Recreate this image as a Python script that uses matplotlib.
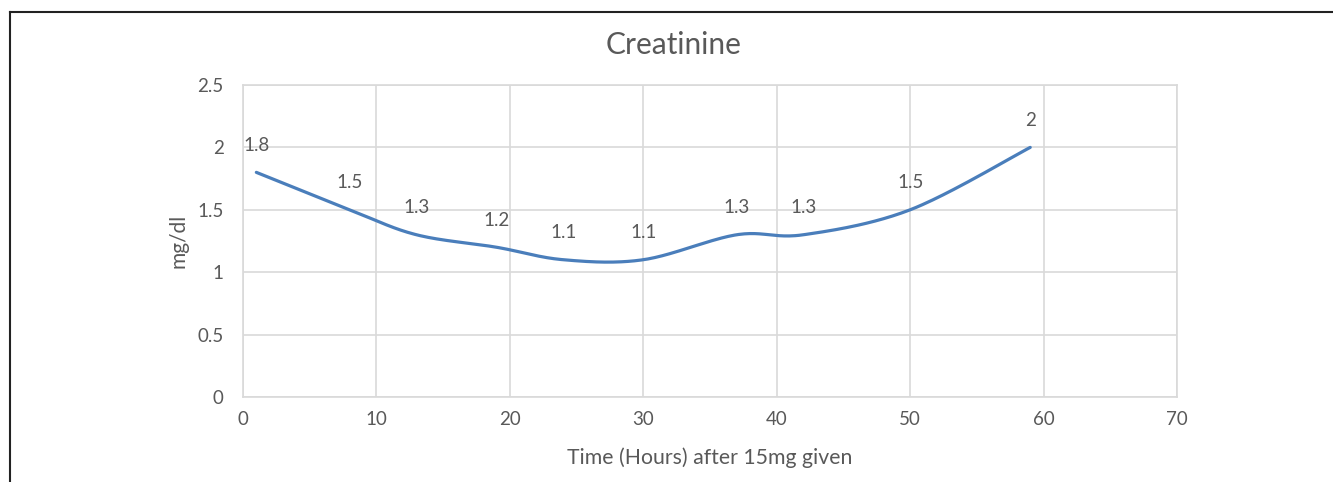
import numpy as np
import matplotlib.pyplot as plt
from matplotlib.lines import Line2D

# Data
hours = [1, 8, 13, 19, 24, 30, 37, 42, 50, 59]
creatinine = [1.8, 1.5, 1.3, 1.2, 1.1, 1.1, 1.3, 1.3, 1.5, 2.0]
labels = ['1.8', '1.5', '1.3', '1.2', '1.1', '1.1', '1.3', '1.3', '1.5', '2']

TEXT = '#595959'
GRID = '#d9d9d9'
LINE = '#4a7ebb'

plt.rcParams['font.family'] = ['Lato', 'DejaVu Sans']


def smooth(xs, ys, n=40):
    # Excel-style smoothed line: cubic Bezier segments, control points at 1/6 of neighbour span
    p = np.column_stack([xs, ys]).astype(float)
    pts = []
    for i in range(len(p) - 1):
        p0 = p[i - 1] if i > 0 else p[i]
        p3 = p[i + 2] if i + 2 < len(p) else p[i + 1]
        c1 = p[i] + (p[i + 1] - p0) / 6
        c2 = p[i + 1] - (p3 - p[i]) / 6
        t = np.linspace(0, 1, n)[:, None]
        seg = ((1 - t) ** 3 * p[i] + 3 * (1 - t) ** 2 * t * c1
               + 3 * (1 - t) * t ** 2 * c2 + t ** 3 * p[i + 1])
        pts.append(seg if i == 0 else seg[1:])
    pts = np.vstack(pts)
    return pts[:, 0], pts[:, 1]


fig = plt.figure(figsize=(13.33, 4.82), dpi=100)
ax = fig.add_axes([243 / 1333, 1 - 397 / 482, (1177 - 243) / 1333, (397 - 85) / 482])

sx, sy = smooth(hours, creatinine)
ax.plot(sx, sy, color=LINE, lw=2.3, solid_capstyle='round', zorder=3)

for x, y, s in zip(hours, creatinine, labels):
    ax.annotate(s, (x, y), xytext=(0, 27), textcoords='offset pixels',
                ha='center', va='center', fontsize=13.5, color=TEXT)

ax.set_xlim(0, 70)
ax.set_ylim(0, 2.5)
ax.set_xticks(np.arange(0, 71, 10))
ax.set_yticks([0, 0.5, 1, 1.5, 2, 2.5])
ax.set_yticklabels(['0', '0.5', '1', '1.5', '2', '2.5'])
ax.grid(True, color=GRID, lw=1.2)
ax.set_axisbelow(True)
for sp in ax.spines.values():
    sp.set_color(GRID)
    sp.set_linewidth(1.2)
ax.tick_params(length=0, labelsize=13.5, labelcolor=TEXT)
ax.tick_params(axis='x', pad=10)
ax.tick_params(axis='y', pad=14)

# title is centred on the whole chart, not the plot area
ax.text((674 - 243) / 934, (397 - 45) / 312, 'Creatinine', transform=ax.transAxes,
        ha='center', va='center', fontsize=21.5, color=TEXT)
ax.set_xlabel('Time (Hours) after 15mg given', fontsize=15.3, color=TEXT)
ax.set_ylabel('mg/dl', fontsize=15, color=TEXT)
ax.xaxis.set_label_coords(0.5, (397 - 458) / 312)
ax.yaxis.set_label_coords((178 - 243) / 934, 0.5)
ax.xaxis.label.set_va('center')
ax.yaxis.label.set_va('center')

# Outer frame (top and left edges visible in the source)
fig.add_artist(Line2D([9.5 / 1333, 1], [1 - 11.5 / 482] * 2, color='#222222', lw=1.5,
                      transform=fig.transFigure))
fig.add_artist(Line2D([9.5 / 1333] * 2, [0, 1 - 11.5 / 482], color='#222222', lw=1.5,
                      transform=fig.transFigure))

fig.savefig('out.png', dpi=100)
